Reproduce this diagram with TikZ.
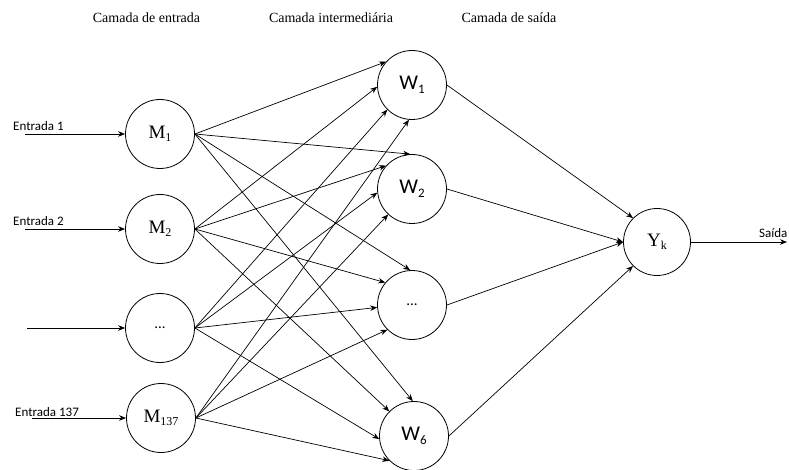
\documentclass[tikz,border=0pt]{standalone}
\usepackage{fontspec}
\setmainfont{Liberation Serif}
\newfontfamily\calib{Carlito}
\usetikzlibrary{arrows.meta}
\newcommand{\msub}[2]{{\fontsize{19}{20}\selectfont #1\raisebox{-0.4ex}{\fontsize{12}{12}\selectfont #2}}}
\newcommand{\wsub}[2]{{\calib\fontsize{21}{22}\selectfont #1\raisebox{-0.35ex}{\fontsize{13}{13}\selectfont #2}}}
\begin{document}
\begin{tikzpicture}[x=1pt,y=-1pt,
  neuron/.style={circle,draw,line width=0.8pt,minimum size=69pt,inner sep=0pt},
  conn/.style={line width=0.7pt,-{Stealth[length=7pt,width=5.5pt]}},
  title/.style={font=\fontsize{14}{16}\selectfont,anchor=base,inner sep=0pt},
  lab/.style={font=\calib\fontsize{13}{15}\selectfont,anchor=base west,inner sep=0pt}]
\useasboundingbox (0,0) rectangle (789,470);

% titles
\node[title] (t1) at (146.5,23) {Camada de entrada};
\node[title] (t2) at (331,23) {Camada intermediária};
\node[title] (t3) at (509,23) {Camada de saída};

% input layer
\node[neuron] (m1) at (160,134) {\msub{M}{1}};
\node[neuron] (m2) at (160,229) {\msub{M}{2}};
\node[neuron] (m3) at (160,328) {{\calib\fontsize{15}{15}\selectfont ...}};
\node[neuron] (m4) at (161,418) {\msub{M}{137}};

% hidden layer
\node[neuron] (w1) at (412,85) {\wsub{W}{1}};
\node[neuron] (w2) at (412,189) {\wsub{W}{2}};
\node[neuron] (w3) at (412,305) {{\calib\fontsize{15}{15}\selectfont ...}};
\node[neuron] (w6) at (414,436) {\wsub{W}{6}};

% output
\node[neuron,minimum size=67pt] (y) at (657,242) {\msub{Y}{k}};

% input labels and arrows
\node[lab] (e1) at (13,131) {Entrada 1};
\node[lab] (e2) at (13,226) {Entrada 2};
\node[lab] (e4) at (15,416) {Entrada 137};
\coordinate (i1) at (25,134);
\coordinate (i2) at (25,229);
\coordinate (i3) at (27,328);
\coordinate (i4) at (32,418);
\draw[conn] (i1) -- (m1.west);
\draw[conn] (i2) -- (m2.west);
\draw[conn] (i3) -- (m3.west);
\draw[conn] (i4) -- (m4.west);

% input -> hidden
\draw[conn] (m1.east) -- (w1.138);
\draw[conn] (m2.east) -- (w1.183);
\draw[conn] (m3.east) -- (w1.225);
\draw[conn] (m4.east) -- (w1.265);

\draw[conn] (m1.east) -- (w2.93);
\draw[conn] (m2.east) -- (w2.138);
\draw[conn] (m3.east) -- (w2.186);
\draw[conn] (m4.east) -- (w2.227);

\draw[conn] (m1.east) -- (w3.93);
\draw[conn] (m2.east) -- (w3.140);
\draw[conn] (m3.east) -- (w3.184);
\draw[conn] (m4.east) -- (w3.225);

\draw[conn] (m1.east) -- (w6.92);
\draw[conn] (m2.east) -- (w6.135);
\draw[conn] (m3.east) -- (w6.185);
\draw[conn] (m4.east) -- (w6.225);

% hidden -> output
\draw[conn] (w1.east) -- (y.135);
\draw[conn] (w2.east) -- (y.180);
\draw[conn] (w3.east) -- (y.180);
\draw[conn] (w6.east) -- (y.225);

% output arrow
\coordinate (o) at (787,242);
\draw[conn] (y.east) -- (o);
\node[lab] (s) at (759,237) {Saída};
\end{tikzpicture}
\end{document}
